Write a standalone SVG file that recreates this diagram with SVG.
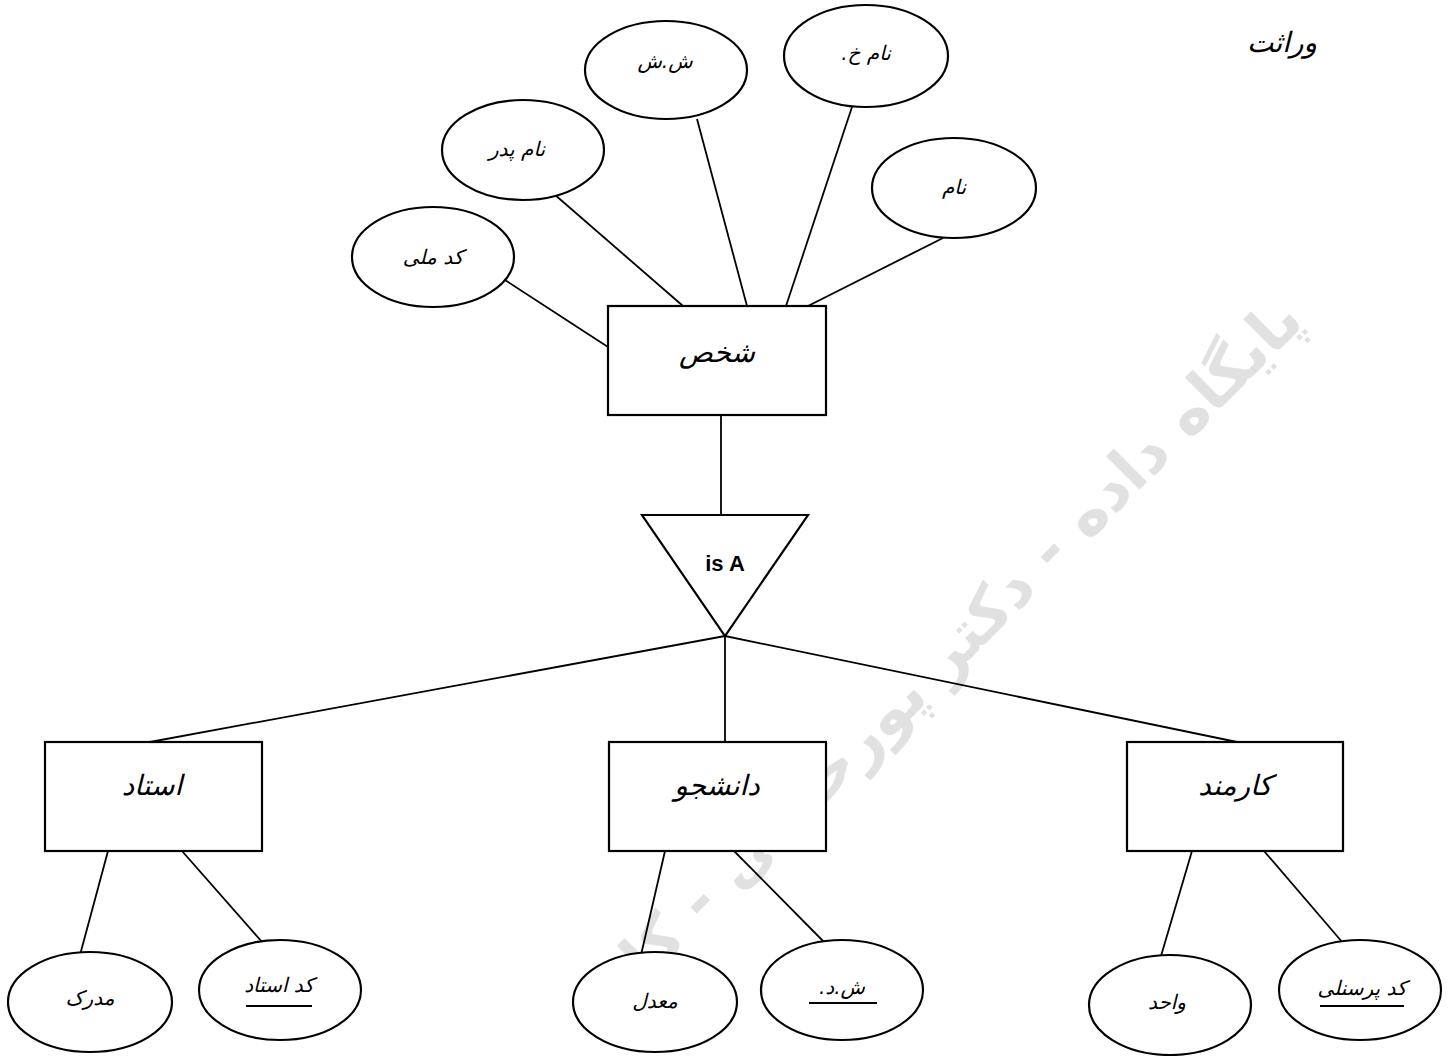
<svg xmlns="http://www.w3.org/2000/svg" width="1455" height="1056" viewBox="0 0 1455 1056">
<style>
.sh{fill:#fff;stroke:#000;stroke-width:2.2}
.ln{stroke:#000;stroke-width:1.8;fill:none}
.fa{font-family:"DejaVu Sans",sans-serif;direction:rtl;text-anchor:middle;fill:#000;font-style:italic}
.at{font-size:20px}
.en{font-size:28px}
.wm{font-family:"DejaVu Sans",sans-serif;font-weight:bold;font-size:62px;fill:#d9d9d9;fill-opacity:0.8;direction:rtl;text-anchor:middle}
</style>
<rect width="1455" height="1056" fill="#fff"/>
<g id="watermark">
<text class="wm" transform="translate(948,650) rotate(-45)" y="22">پایگاه داده - دکتر پورحاجی - کار</text>
</g>
<g id="connectors">
<line class="ln" x1="505" y1="280" x2="608" y2="347"/>
<line class="ln" x1="554" y1="194" x2="683" y2="306"/>
<line class="ln" x1="697" y1="119" x2="747" y2="306"/>
<line class="ln" x1="852" y1="107" x2="786" y2="306"/>
<line class="ln" x1="943" y1="238" x2="808" y2="306"/>
<line class="ln" x1="721" y1="415" x2="721" y2="515"/>
<line class="ln" x1="725" y1="636" x2="150" y2="742"/>
<line class="ln" x1="725" y1="636" x2="725" y2="742"/>
<line class="ln" x1="725" y1="636" x2="1237" y2="742"/>
<line class="ln" x1="108" y1="851" x2="80" y2="955"/>
<line class="ln" x1="182" y1="851" x2="263" y2="943"/>
<line class="ln" x1="665" y1="851" x2="641" y2="955"/>
<line class="ln" x1="734" y1="851" x2="825" y2="943"/>
<line class="ln" x1="1192" y1="851" x2="1161" y2="956"/>
<line class="ln" x1="1264" y1="851" x2="1343" y2="943"/>
</g>
<g id="title"><text class="fa en" x="1282" y="52">وراثت</text></g>
<g id="shakhs"><rect class="sh" x="608" y="306" width="218" height="109"/><text class="fa en" x="717" y="362">شخص</text></g>
<g id="isa"><polygon class="sh" points="642,515 808,515 725,636"/><text x="725" y="571" font-family="Liberation Sans, Arial, sans-serif" font-weight="bold" font-size="22" text-anchor="middle">is A</text></g>
<g id="ostad"><rect class="sh" x="45" y="742" width="217" height="109"/><text class="fa en" x="152" y="795">استاد</text></g>
<g id="daneshjoo"><rect class="sh" x="609" y="742" width="217" height="109"/><text class="fa en" x="717" y="795">دانشجو</text></g>
<g id="karmand"><rect class="sh" x="1127" y="742" width="216" height="109"/><text class="fa en" x="1235" y="795">کارمند</text></g>
<g id="kodmelli"><ellipse class="sh" cx="433" cy="257" rx="81" ry="50"/><text class="fa at" x="433" y="264">کد ملی</text></g>
<g id="nampedar"><ellipse class="sh" cx="523" cy="150" rx="81" ry="50"/><text class="fa at" x="517" y="156">نام پدر</text></g>
<g id="shsh"><ellipse class="sh" cx="666" cy="70" rx="81" ry="49"/><text class="fa at" x="665" y="68">ش.ش</text></g>
<g id="namkh"><ellipse class="sh" cx="866" cy="56" rx="82" ry="51"/><text class="fa at" x="866" y="60">نام خ.</text></g>
<g id="nam"><ellipse class="sh" cx="954" cy="188" rx="82" ry="50"/><text class="fa at" x="954" y="194">نام</text></g>
<g id="madrak"><ellipse class="sh" cx="90" cy="1002" rx="82" ry="50"/><text class="fa at" x="90" y="1005">مدرک</text></g>
<g id="kodostad"><ellipse class="sh" cx="280" cy="990" rx="81" ry="50"/><text class="fa at" x="279" y="992">کد استاد</text><line class="ln" x1="246" y1="1006" x2="312" y2="1006" stroke-width="1.2"/></g>
<g id="moadel"><ellipse class="sh" cx="655" cy="1002" rx="82" ry="50"/><text class="fa at" x="655" y="1008">معدل</text></g>
<g id="shd"><ellipse class="sh" cx="842" cy="990" rx="81" ry="50"/><text class="fa at" x="842" y="994">ش.د.</text><line class="ln" x1="809" y1="1003" x2="877" y2="1003" stroke-width="1.2"/></g>
<g id="vahed"><ellipse class="sh" cx="1170" cy="1005" rx="81" ry="50"/><text class="fa at" x="1167" y="1009">واحد</text></g>
<g id="kodpersoneli"><ellipse class="sh" cx="1360" cy="990" rx="81" ry="50"/><text class="fa at" x="1362" y="995">کد پرسنلی</text><line class="ln" x1="1320" y1="1006" x2="1404" y2="1006" stroke-width="1.2"/></g>
</svg>
